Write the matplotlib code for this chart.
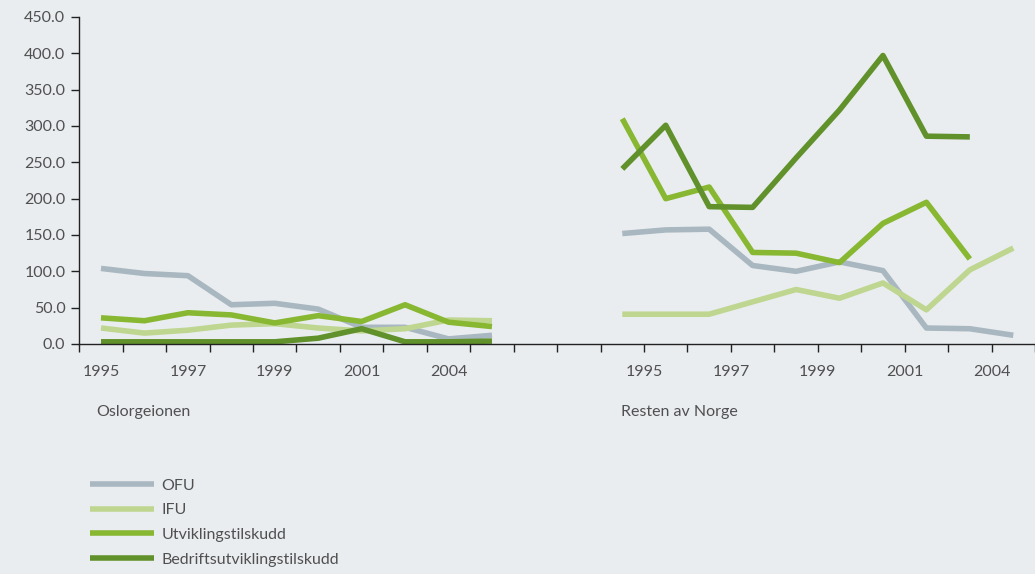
import numpy as np
import matplotlib
matplotlib.use("Agg")
import matplotlib.pyplot as plt
import matplotlib.transforms as mtransforms

# --------- data ---------
series_names = ['OFU', 'IFU', 'Utviklingstilskudd', 'Bedriftsutviklingstilskudd']
colors = ['#a9b7c0', '#bfd690', '#88b732', '#61912a']

tick_years = ['1995', '1997', '1999', '2001', '2004']
groups = ['Oslorgeionen', 'Resten av Norge']

oslo_ofu = [104, 97, 94, 54, 56, 48, 23, 23, 7, 12]
oslo_ifu = [22, 15, 19, 26, 28, 22, 18, 21, 33, 32]
oslo_utv = [36, 32, 43, 40, 29, 39, 31, 54, 30, 24]
oslo_bed = [3, 3, 3, 3, 3, 8, 21, 3, 3, 4]

rest_ofu = [152, 157, 158, 108, 100, 113, 101, 22, 21, 12]
rest_ifu = [41, 41, 41, 58, 75, 63, 84, 47, 102, 132]
rest_utv = [310, 200, 216, 126, 125, 112, 166, 195, 117, np.nan]
rest_bed = [241, 301, 189, 188, 256, 322, 397, 286, 285, np.nan]

oslo = [oslo_ofu, oslo_ifu, oslo_utv, oslo_bed]
rest = [rest_ofu, rest_ifu, rest_utv, rest_bed]

# --------- figure ---------
bg = '#e9edf0'
txt = '#505050'
plt.rcParams['font.family'] = ['Lato', 'DejaVu Sans']

fig = plt.figure(figsize=(10.35, 5.74), dpi=100, facecolor=bg)
ax = fig.add_axes([0.0766, 0.4007, 0.9234, 0.5697], facecolor=bg)

x_oslo = np.arange(10) + 0.5
x_rest = np.arange(12, 22) + 0.5

for vals, col, name in zip(oslo, colors, series_names):
    ax.plot(x_oslo, vals, color=col, lw=4, solid_capstyle='butt', label=name)
for vals, col in zip(rest, colors):
    ax.plot(x_rest, vals, color=col, lw=4, solid_capstyle='butt')

ax.set_xlim(0, 22)
ax.set_ylim(0, 450)
ax.set_yticks(np.arange(0, 451, 50))
ax.set_yticklabels(['%.1f' % v for v in np.arange(0, 451, 50)])
ax.set_xticks(np.arange(0, 23))
ax.set_xticklabels([])

for s in ['top', 'right']:
    ax.spines[s].set_visible(False)
for s in ['left', 'bottom']:
    ax.spines[s].set_color('#222222')
    ax.spines[s].set_linewidth(1)
ax.tick_params(axis='both', direction='out', length=6, width=1, color='#222222',
               labelcolor=txt, labelsize=11.5)
ax.tick_params(axis='y', pad=4)

# year labels under each group (right group sits on the ticks, as in the original)
trans = mtransforms.blended_transform_factory(ax.transData, fig.transFigure)
oslo_pos = [0.5, 2.5, 4.5, 6.5, 8.5]
rest_pos = [13, 15, 17, 19, 21]
for p, lab in zip(oslo_pos, tick_years):
    ax.text(p, 1 - 372 / 574, lab, transform=trans, ha='center', va='center',
            fontsize=11.5, color=txt)
for p, lab in zip(rest_pos, tick_years):
    ax.text(p, 1 - 372 / 574, lab, transform=trans, ha='center', va='center',
            fontsize=11.5, color=txt)

fig.text(96 / 1035, 1 - 412 / 574, groups[0], ha='left', va='center', fontsize=11.5, color=txt)
fig.text(621 / 1035, 1 - 412 / 574, groups[1], ha='left', va='center', fontsize=11.5, color=txt)

# legend
leg = fig.legend(loc='upper left', bbox_to_anchor=(84 / 1035, 1 - 472 / 574),
                 frameon=False, fontsize=11.5, handlelength=4.0, handletextpad=0.45,
                 labelspacing=0.66, borderaxespad=0)
for t in leg.get_texts():
    t.set_color(txt)

fig.savefig('out.png', dpi=100, facecolor=bg)
